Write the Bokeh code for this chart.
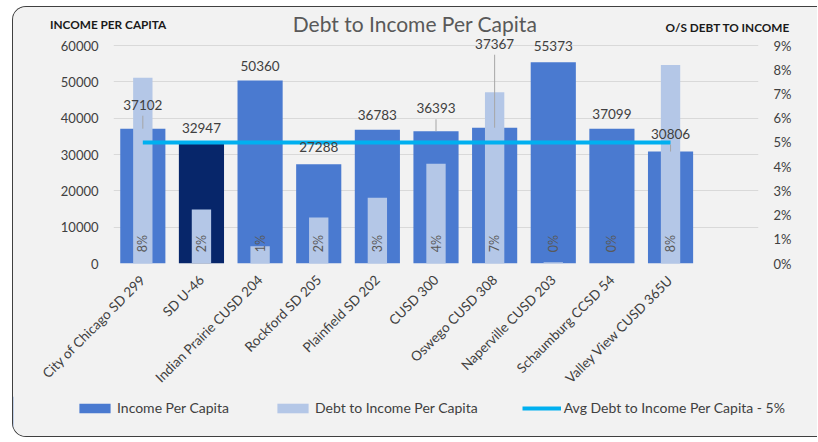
import math
from bokeh.plotting import figure
from bokeh.layouts import column
from bokeh.models import (ColumnDataSource, Range1d, LinearAxis, FixedTicker, Legend,
                          LegendItem, Label, LabelSet)
from bokeh.core.properties import value
from bokeh.embed import file_html
from bokeh.resources import INLINE

# ---------------- data ----------------
districts = ["City of Chicago SD 299", "SD U-46", "Indian Prairie CUSD 204", "Rockford SD 205",
             "Plainfield SD 202", "CUSD 300", "Oswego CUSD 308", "Naperville CUSD 203",
             "Schaumburg CCSD 54", "Valley View CUSD 365U"]
income = [37102, 32947, 50360, 27288, 36783, 36393, 37367, 55373, 37099, 30806]
debt_pct = [7.67, 2.23, 0.71, 1.90, 2.71, 4.12, 7.07, 0.05, 0.0, 8.19]
avg_debt_pct = 5
income_ticks = [0, 10000, 20000, 30000, 40000, 50000, 60000]
pct_ticks = [0, 1, 2, 3, 4, 5, 6, 7, 8, 9]
title_text = "Debt to Income Per Capita"
left_title = "INCOME PER CAPITA"
right_title = "O/S DEBT TO INCOME"
legend_labels = ["Income Per Capita", "Debt to Income Per Capita",
                 "Avg Debt to Income Per Capita - 5%"]

# ---------------- styling / layout ----------------
W = 804
H_TITLE, H_CHART, H_LEG = 29, 360, 40
FL, FR, FB = 100, 59, 133
FRAME_H = H_CHART - FB          # frame height in px
AXIS_PX = 218                   # px spanned by the 0..max tick range
FONT = "Lato"
BG = "#F2F2F2"
C_INC = "#4A7AD0"
C_HI = "#07266A"
C_DEBT = "#B4C7E7"
C_LINE = "#00B0F0"
C_TXT = "#404040"
highlight = "SD U-46"
label_dy_px = [24, 16, 15, 17, 15, 23, 84, 16, 15, 18]
leader = [True, False, False, False, False, True, True, False, False, True]

n_slots = len(districts) + 1
xs = [i + 0.5 for i in range(len(districts))]
units_per_px = income_ticks[-1] / AXIS_PX
y_end = income_ticks[-1] * FRAME_H / AXIS_PX
pct_end = pct_ticks[-1] * FRAME_H / AXIS_PX


def blank_fig(h):
    f = figure(width=W, height=h, output_backend="svg", toolbar_location=None, title=None,
               x_range=Range1d(0, 1), y_range=Range1d(0, 1),
               x_axis_type=None, y_axis_type=None)
    f.min_border = 0
    f.min_border_left = f.min_border_right = f.min_border_top = f.min_border_bottom = 0
    f.border_fill_color = BG
    f.background_fill_color = BG
    f.outline_line_color = None
    try:
        f.frame_align = False
    except Exception:
        pass
    return f


# ---------------- title strip ----------------
pt = blank_fig(H_TITLE)
pt.add_layout(Label(x=401.5, y=13, x_units="screen", y_units="screen",
                    text=title_text, text_align="center", text_baseline="middle",
                    text_font=FONT, text_font_size="21px", text_color="#595959"))
pt.add_layout(Label(x=36.5, y=12, x_units="screen", y_units="screen",
                    text=left_title, text_align="left", text_baseline="middle",
                    text_font=FONT, text_font_size="11.8px", text_font_style="bold",
                    text_color="#1A1A1A"))
pt.add_layout(Label(x=776.5, y=9.5, x_units="screen", y_units="screen",
                    text=right_title, text_align="right", text_baseline="middle",
                    text_font=FONT, text_font_size="11.8px", text_font_style="bold",
                    text_color="#1A1A1A"))

# ---------------- chart ----------------
src = ColumnDataSource(dict(
    x=xs, income=income, debt=debt_pct,
    color=[C_HI if d == highlight else C_INC for d in districts],
    inc_lbl=[str(v) for v in income],
    pct_lbl=[f"{round(v):d}%" for v in debt_pct],
    dy=label_dy_px,
))

p = figure(width=W, height=H_CHART, output_backend="svg", toolbar_location=None, title=None,
           x_range=Range1d(0, n_slots), y_range=Range1d(income_ticks[0], y_end))
p.extra_y_ranges = {"pct": Range1d(pct_ticks[0], pct_end)}
p.min_border = 0
p.min_border_left = FL
p.min_border_right = FR
p.min_border_top = 0
p.min_border_bottom = FB
p.border_fill_color = BG
p.background_fill_color = BG
p.outline_line_color = None

p.xaxis.ticker = FixedTicker(ticks=xs)
p.xaxis.major_label_overrides = {x: d for x, d in zip(xs, districts)}
p.xaxis.major_label_orientation = math.pi / 4
p.xaxis.axis_line_color = None
p.xaxis.major_tick_line_color = None
p.xaxis.minor_tick_line_color = None
p.xaxis.major_label_text_font = FONT
p.xaxis.major_label_text_font_size = "13.5px"
p.xaxis.major_label_text_color = C_TXT
p.xaxis.major_label_standoff = 8
p.xgrid.grid_line_color = None

p.yaxis.ticker = FixedTicker(ticks=income_ticks)
p.yaxis.axis_line_color = None
p.yaxis.major_tick_line_color = None
p.yaxis.minor_tick_line_color = None
p.yaxis.major_label_text_font = FONT
p.yaxis.major_label_text_font_size = "13px"
p.yaxis.major_label_text_color = C_TXT
p.yaxis.major_label_standoff = 9
p.ygrid.grid_line_color = "#D9D9D9"
p.ygrid.grid_line_width = 1

ax_r = LinearAxis(y_range_name="pct", ticker=FixedTicker(ticks=pct_ticks))
ax_r.major_label_overrides = {t: f"{t}%" for t in pct_ticks}
ax_r.axis_line_color = None
ax_r.major_tick_line_color = None
ax_r.minor_tick_line_color = None
ax_r.major_label_text_font = FONT
ax_r.major_label_text_font_size = "13px"
ax_r.major_label_text_color = C_TXT
ax_r.major_label_standoff = 9
p.add_layout(ax_r, "right")

p.vbar(x="x", top="income", width=0.77, bottom=0, source=src,
       fill_color="color", line_color=None)
p.vbar(x="x", top="debt", width=0.33, bottom=0, source=src, y_range_name="pct",
       fill_color=C_DEBT, line_color=None)
p.line(x=[xs[0], xs[-1]], y=[avg_debt_pct, avg_debt_pct], y_range_name="pct",
       line_color=C_LINE, line_width=4)

lx = [x for x, l in zip(xs, leader) if l]
ly0 = [v for v, l in zip(income, leader) if l]
ly1 = [v + (d - 11) * units_per_px for v, d, l in zip(income, label_dy_px, leader) if l]
p.segment(x0=lx, y0=ly0, x1=lx, y1=ly1, line_color="#A6A6A6", line_width=1)

p.add_layout(LabelSet(x="x", y="income", text="inc_lbl", source=src, y_offset="dy",
                      text_align="center", text_baseline="middle", text_font=value(FONT),
                      text_font_size=value("13.5px"), text_color=value(C_TXT)))
p.text(x="x", y=0, text="pct_lbl", source=src, y_offset=-20, angle=math.pi / 2,
       text_align="center", text_baseline="middle", text_font=value(FONT),
       text_font_size="12.5px", text_color="#595959")

# ---------------- legend strip ----------------
# legend swatches use renderers placed outside the strip's visible range
pl = blank_fig(H_LEG)
g1 = pl.vbar(x=[-5], top=[1], width=0.1, fill_color=C_INC, line_color=None)
g2 = pl.vbar(x=[-5], top=[1], width=0.1, fill_color=C_DEBT, line_color=None)
g3 = pl.line(x=[-5, -4], y=[0.5, 0.5], line_color=C_LINE, line_width=4)
legend = Legend(items=[LegendItem(label=lab, renderers=[r])
                       for lab, r in zip(legend_labels, [g1, g2, g3])],
                orientation="horizontal", location=(62, 20), spacing=44, padding=0, margin=0,
                glyph_width=39, glyph_height=12, label_standoff=3,
                label_text_font=FONT, label_text_font_size="14px", label_text_color=C_TXT,
                border_line_color=None, background_fill_alpha=0)
pl.add_layout(legend, "center")

layout = column(pt, p, pl, spacing=0, margin=(6, 0, 0, 12),
                styles={"border": "1.5px solid #404040", "border-right": "none",
                        "border-radius": "14px 0 0 14px", "overflow": "hidden",
                        "background-color": BG})

open("out.html", "w").write(file_html(layout, INLINE))
